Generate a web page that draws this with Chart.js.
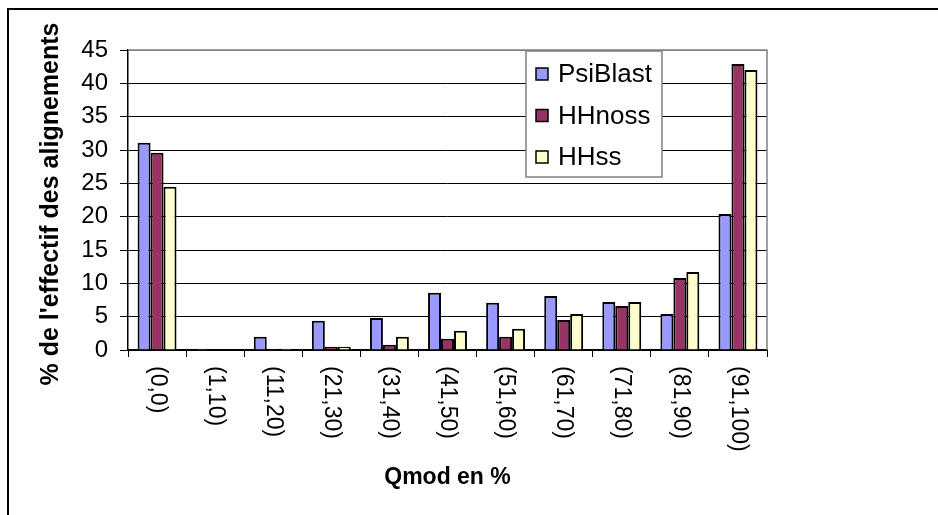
<!DOCTYPE html>
<html>
<head>
<meta charset="utf-8">
<script src="https://cdn.jsdelivr.net/npm/chart.js@4"></script>
<style>
  html, body { margin: 0; padding: 0; background: #fff; }
  #wrap { width: 938px; height: 515px; }
</style>
</head>
<body>
<div id="wrap"><canvas id="c" width="938" height="515"></canvas></div>
<script>
// Qmod classes
const categories = ['(0,0)', '(1,10)', '(11,20)', '(21,30)', '(31,40)', '(41,50)', '(51,60)', '(61,70)', '(71,80)', '(81,90)', '(91,100)'];
// % of alignments per class
const psiBlast = [31.1, 0.2, 2.0, 4.4, 4.8, 8.6, 7.1, 8.1, 7.2, 5.4, 20.4];
const hhNoss   = [29.6, 0.0, 0.2, 0.5, 0.8, 1.7, 2.0, 4.5, 6.6, 10.8, 42.9];
const hhSs     = [24.5, 0.0, 0.2, 0.5, 2.0, 2.9, 3.2, 5.4, 7.2, 11.7, 42.0];
const seriesNames = ['PsiBlast', 'HHnoss', 'HHss'];
const yTicks = [0, 5, 10, 15, 20, 25, 30, 35, 40, 45];
const yAxisTitle = "% de l'effectif des alignements";
const xAxisTitle = 'Qmod en %';

const FONT = 'Arial, "Liberation Sans", sans-serif';
const colors = ['#9999FF', '#993366', '#FFFFCC'];

// white page with the outer frame lines
const framePlugin = {
  id: 'frame',
  beforeDraw(chart) {
    const ctx = chart.ctx;
    ctx.save();
    ctx.fillStyle = '#fff';
    ctx.fillRect(0, 0, chart.width, chart.height);
    ctx.strokeStyle = '#000';
    ctx.lineWidth = 2;
    ctx.beginPath();
    ctx.moveTo(chart.width + 2, 9);
    ctx.lineTo(8, 9);
    ctx.lineTo(8, chart.height + 2);
    ctx.stroke();
    ctx.restore();
  },
  afterDatasetsDraw(chart) {
    // top and right edges of the plot area
    const a = chart.chartArea;
    const ctx = chart.ctx;
    ctx.save();
    ctx.strokeStyle = '#808080';
    ctx.lineWidth = 1.5;
    ctx.beginPath();
    ctx.moveTo(a.left, a.top);
    ctx.lineTo(a.right, a.top);
    ctx.lineTo(a.right, a.bottom);
    ctx.stroke();
    ctx.restore();
  }
};

// category labels read top-to-bottom, plus the axis titles and the boxed legend
const labelsPlugin = {
  id: 'labelsAndLegend',
  afterDraw(chart) {
    const ctx = chart.ctx;
    const xs = chart.scales.x;
    const ys = chart.scales.y;
    ctx.save();
    ctx.fillStyle = '#000';
    ctx.font = '23px ' + FONT;
    ctx.textAlign = 'left';
    ctx.textBaseline = 'middle';
    categories.forEach((lab, i) => {
      const x = xs.getPixelForValue(i);
      ctx.save();
      ctx.translate(x, xs.top + 16);
      ctx.rotate(Math.PI / 2);
      ctx.fillText(lab, 0, 0);
      ctx.restore();
    });

    // axis titles
    ctx.font = 'bold 23px ' + FONT;
    ctx.textAlign = 'center';
    ctx.textBaseline = 'middle';
    ctx.fillText(xAxisTitle, (xs.left + xs.right) / 2, 478);
    ctx.font = 'bold 25px ' + FONT;
    ctx.save();
    ctx.translate(51, (ys.top + ys.bottom) / 2 + 4);
    ctx.rotate(-Math.PI / 2);
    ctx.fillText(yAxisTitle, 0, 0);
    ctx.restore();

    // legend box
    const lx = 526, ly = 51, lw = 136, lh = 126;
    ctx.fillStyle = '#fff';
    ctx.fillRect(lx, ly, lw, lh);
    ctx.strokeStyle = '#808080';
    ctx.lineWidth = 1.5;
    ctx.strokeRect(lx, ly, lw, lh);
    ctx.font = '26px ' + FONT;
    ctx.textAlign = 'left';
    ctx.textBaseline = 'middle';
    chart.data.datasets.forEach((ds, i) => {
      const cy = ly + 23 + i * 41.5;
      ctx.fillStyle = ds.backgroundColor;
      ctx.fillRect(lx + 10, cy - 6, 12, 12);
      ctx.strokeStyle = '#000';
      ctx.lineWidth = 1.5;
      ctx.strokeRect(lx + 10, cy - 6, 12, 12);
      ctx.fillStyle = '#000';
      ctx.fillText(ds.label, lx + 32, cy + 1);
    });
    ctx.restore();
  }
};

const makeSet = (name, data, i) => ({
  label: name,
  data: data,
  backgroundColor: colors[i],
  borderColor: '#000',
  borderWidth: 2,
  categoryPercentage: 0.67,
  barPercentage: 1.0
});

new Chart(document.getElementById('c'), {
  type: 'bar',
  data: {
    labels: categories,
    datasets: [
      makeSet(seriesNames[0], psiBlast, 0),
      makeSet(seriesNames[1], hhNoss, 1),
      makeSet(seriesNames[2], hhSs, 2)
    ]
  },
  plugins: [framePlugin, labelsPlugin],
  options: {
    responsive: false,
    animation: false,
    devicePixelRatio: 1,
    layout: { padding: { left: 8, top: 50, right: 171, bottom: 0 } },
    plugins: {
      legend: { display: false },
      tooltip: { enabled: false }
    },
    scales: {
      x: {
        afterFit(s) { s.height = 165; },
        ticks: { display: false },
        grid: {
          offset: true,
          drawOnChartArea: false,
          color: '#000',
          tickLength: 7,
          lineWidth: 1
        },
        border: { color: '#000', width: 1.5 }
      },
      y: {
        min: 0,
        max: 45,
        afterFit(s) { s.width = 120; },
        afterBuildTicks(s) { s.ticks = yTicks.map(v => ({ value: v })); },
        ticks: {
          color: '#000',
          font: { family: FONT, size: 24 },
          padding: 12
        },
        grid: {
          color: (c) => (c.tick && c.tick.value === 45 ? '#808080' : '#000'),
          tickColor: '#000',
          tickLength: 8,
          lineWidth: 1
        },
        border: { color: '#000', width: 1.5 }
      }
    }
  }
});
</script>
</body>
</html>
